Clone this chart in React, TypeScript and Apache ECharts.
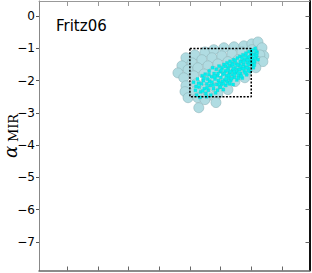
import React, { useEffect, useRef } from "react";
import * as echarts from "echarts";

const titleText = "Fritz06";
const yTicks = [0, -1, -2, -3, -4, -5, -6, -7];
const xTicks = [8, 9, 10, 11, 12, 13, 14, 15];
const boxX = [12, 14, 14, 12, 12];
const boxY = [-1, -1, -2.5, -2.5, -1];

const bigPoints: number[][] = [
  [11.87, -1.29], [12.16, -1.2], [12.49, -1.11], [12.78, -1.04], [13.11, -0.98], [13.44, -0.95], [13.76, -0.92], [14.02, -0.86], [14.22, -0.8], [14.35, -0.98], [14.41, -1.23],
  [11.74, -1.54], [12.07, -1.45], [12.39, -1.35], [12.72, -1.29], [13.04, -1.23], [13.37, -1.17], [13.7, -1.11], [14.02, -1.04], [14.28, -1.2],
  [11.61, -1.76], [11.94, -1.66], [12.26, -1.6], [12.59, -1.54], [12.91, -1.48], [13.24, -1.41], [13.57, -1.35], [13.89, -1.29], [14.22, -1.41], [14.38, -1.41],
  [11.8, -1.91], [12.13, -1.85], [12.46, -1.79], [12.78, -1.72], [13.11, -1.66], [13.44, -1.6], [13.76, -1.54], [14.09, -1.48],
  [11.87, -2.16], [12.2, -2.1], [12.52, -2.03], [12.85, -1.97], [13.17, -1.91], [13.5, -1.85], [13.83, -1.72], [14.15, -1.6],
  [11.84, -2.34], [12.16, -2.34], [12.49, -2.28], [12.82, -2.22], [13.14, -2.16], [13.47, -2.03], [13.79, -1.91],
  [11.94, -2.53], [12.26, -2.53], [12.59, -2.47], [12.91, -2.41], [13.24, -2.28],
  [12.29, -2.84], [12.85, -2.68], [12.49, -2.59]
];

const smallPoints: number[][] = [
  [12.12, -2.05], [12.18, -2.3], [12.22, -2.45], [12.25, -1.95], [12.3, -2.2], [12.33, -2.52], [12.38, -2.1], [12.4, -1.85], [12.35, -2.35],
  [12.44, -2.0], [12.47, -2.25], [12.5, -1.8], [12.52, -2.4], [12.55, -2.1], [12.58, -1.95], [12.6, -2.3], [12.63, -1.7], [12.66, -2.15], [12.68, -2.45], [12.7, -1.88],
  [12.72, -2.05], [12.74, -1.6], [12.77, -2.25], [12.79, -1.78], [12.82, -1.95], [12.84, -2.38], [12.86, -1.65], [12.88, -2.12], [12.9, -1.85], [12.93, -2.0], [12.95, -1.55], [12.97, -2.2], [12.99, -1.72],
  [13.01, -1.9], [13.03, -2.1], [13.05, -1.6], [13.07, -1.8], [13.09, -2.28], [13.11, -1.5], [13.13, -1.98], [13.15, -1.7], [13.17, -2.15], [13.19, -1.85], [13.21, -1.45], [13.23, -2.05], [13.25, -1.62], [13.27, -1.92], [13.29, -1.75],
  [13.31, -1.4], [13.33, -2.0], [13.35, -1.55], [13.37, -1.82], [13.39, -1.68], [13.41, -2.12], [13.43, -1.35], [13.45, -1.9], [13.47, -1.6], [13.49, -1.75], [13.51, -1.48], [13.53, -1.98], [13.55, -1.3], [13.57, -1.65], [13.59, -1.85],
  [13.61, -1.52], [13.63, -1.25], [13.65, -1.78], [13.67, -1.4], [13.69, -1.62], [13.71, -1.92], [13.73, -1.2], [13.75, -1.5], [13.77, -1.7], [13.79, -1.35], [13.81, -1.58], [13.83, -1.15], [13.85, -1.82], [13.87, -1.45], [13.89, -1.28],
  [13.91, -1.62], [13.93, -1.1], [13.95, -1.38], [13.97, -1.72], [13.99, -1.22], [14.01, -1.5], [14.03, -1.05], [14.05, -1.32], [14.07, -1.6], [14.09, -1.18], [14.11, -1.42], [14.13, -1.0], [14.16, -1.28], [14.19, -1.12], [14.22, -1.35],
  [13.02, -1.68], [13.06, -2.02], [13.12, -1.78], [13.16, -1.56], [13.2, -2.0], [13.26, -1.84], [13.28, -1.52], [13.32, -1.72], [13.36, -1.94], [13.38, -1.46],
  [13.42, -1.64], [13.46, -1.8], [13.48, -1.38], [13.52, -1.7], [13.56, -1.52], [13.58, -1.92], [13.62, -1.66], [13.64, -1.42], [13.68, -1.86], [13.7, -1.3],
  [13.74, -1.62], [13.76, -1.4], [13.8, -1.76], [13.82, -1.24], [13.86, -1.6], [13.88, -1.36], [13.92, -1.5], [13.94, -1.26], [13.98, -1.44], [14.0, -1.14],
  [14.04, -1.42], [14.06, -1.2], [14.1, -1.52], [14.12, -1.3], [14.15, -1.08], [14.18, -1.22], [12.92, -1.78], [12.96, -2.08], [12.8, -1.88], [12.76, -2.14],
  [12.64, -2.02], [12.56, -2.22], [12.46, -1.92], [12.42, -2.32], [12.28, -2.08], [12.2, -2.18], [12.9, -2.3], [13.0, -2.2], [13.1, -2.1], [13.3, -2.1],
  [12.62, -1.82], [12.54, -2.5], [13.22, -1.68], [13.44, -1.72], [13.66, -1.55], [13.9, -1.7], [14.08, -1.4], [13.6, -1.76], [13.4, -1.5], [13.18, -1.95]
];

const fmtY = (v: number) => (v === 0 ? "0" : "\u2212" + Math.abs(v));

export default function App() {
  const ref = useRef<HTMLDivElement>(null);
  useEffect(() => {
    if (!ref.current) return;
    const chart = echarts.init(ref.current, null, { renderer: "svg" });
    const xMin = 7.08, xMax = 15.9, yMin = -7.89, yMax = 0.47;
    chart.setOption({
      animation: false,
      grid: { left: 39, right: 2.5, top: 1, bottom: 2.5, containLabel: false },
      title: {
        text: titleText,
        left: 51,
        top: 13,
        textStyle: { fontFamily: "DejaVu Sans", fontSize: 15, fontWeight: "normal", color: "#000" },
      },
      xAxis: [
        {
          type: "value", min: xMin, max: xMax, position: "bottom",
          axisLine: { show: true, onZero: false, lineStyle: { color: "#666", width: 1.5 } },
          axisTick: { show: true, inside: true, length: 4, customValues: xTicks, lineStyle: { color: "#666" } },
          axisLabel: { show: false },
          splitLine: { show: false },
        },
        {
          type: "value", min: xMin, max: xMax, position: "top",
          axisLine: { show: true, onZero: false, lineStyle: { color: "#999", width: 1 } },
          axisTick: { show: true, inside: true, length: 5, customValues: xTicks, lineStyle: { color: "#999" } },
          axisLabel: { show: false },
          splitLine: { show: false },
        },
      ],
      yAxis: [
        {
          type: "value", min: yMin, max: yMax, position: "left",
          axisLine: { show: true, onZero: false, lineStyle: { color: "#888", width: 1 } },
          axisTick: { show: true, inside: false, length: 3, customValues: yTicks, lineStyle: { color: "#555" } },
          axisLabel: {
            show: true, margin: 4, customValues: yTicks, formatter: fmtY,
            fontFamily: "DejaVu Sans", fontSize: 12, color: "#000",
          },
          splitLine: { show: false },
        },
        {
          type: "value", min: yMin, max: yMax, position: "right",
          axisLine: { show: true, onZero: false, lineStyle: { color: "#111", width: 2 } },
          axisTick: { show: true, inside: true, length: 4, customValues: yTicks, lineStyle: { color: "#666" } },
          axisLabel: { show: false },
          splitLine: { show: false },
        },
      ],
      graphic: [
        {
          type: "text", x: 10, y: 152, rotation: Math.PI / 2,
          style: { text: "\u03b1", font: "italic 18px 'DejaVu Serif'", fill: "#000", align: "center", verticalAlign: "middle" },
        },
        {
          type: "text", x: 13.5, y: 128, rotation: Math.PI / 2,
          style: { text: "MIR", font: "13px 'DejaVu Serif'", fill: "#000", align: "center", verticalAlign: "middle" },
        },
      ],
      series: [
        {
          type: "scatter", xAxisIndex: 0, yAxisIndex: 0, data: bigPoints,
          symbol: "circle", symbolSize: 10,
          itemStyle: { color: "#b0dce2", borderColor: "#8fb3b9", borderWidth: 0.6, opacity: 1 },
        },
        {
          type: "scatter", xAxisIndex: 0, yAxisIndex: 0, data: smallPoints,
          symbol: "rect", symbolSize: 3,
          itemStyle: { color: "#00f0f0", borderColor: "#20c8c8", borderWidth: 0.3, opacity: 1 },
        },
        {
          type: "line", xAxisIndex: 0, yAxisIndex: 0,
          data: boxX.map((x, i) => [x, boxY[i]]),
          symbol: "none",
          lineStyle: { color: "#000", width: 1.5, type: [2, 1.5] },
        },
      ],
    });
    return () => chart.dispose();
  }, []);
  return <div ref={ref} style={{ width: 312, height: 273, position: "absolute", left: 0, top: 0 }} />;
}
